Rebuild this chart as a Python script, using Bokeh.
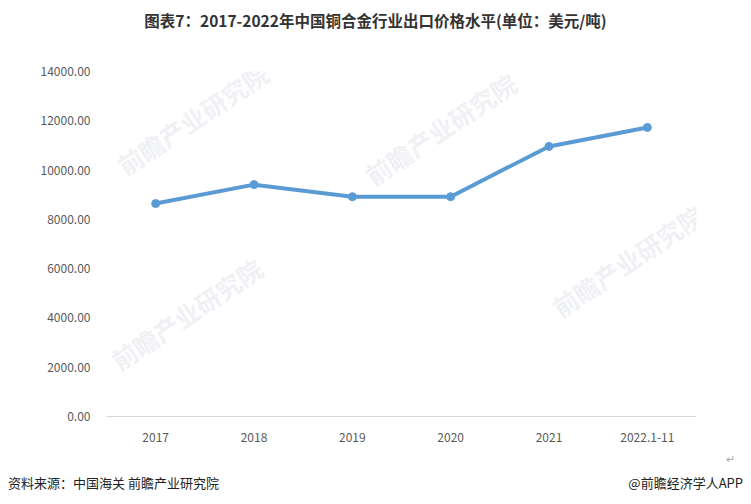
from bokeh.plotting import figure
from bokeh.models import Label, FixedTicker, CustomJSTickFormatter, Div, Title
from bokeh.layouts import column
from bokeh.embed import file_html
from bokeh.resources import INLINE

categories = ["2017", "2018", "2019", "2020", "2021", "2022.1-11"]
prices = [8640, 9410, 8920, 8920, 10960, 11730]
y_ticks = [0, 2000, 4000, 6000, 8000, 10000, 12000, 14000]

W = 735
FONT = "Noto Sans CJK SC"
TITLE_H = 40
FIG_H = 424
FOOT_H = 24

title_div = Div(text=('<div style="width:735px;height:24px;line-height:24px;text-align:center;'
                      'font-family:\'Noto Sans CJK SC\';font-size:15.5px;font-weight:bold;color:#333333;">'
                      '图表7：2017-2022年中国铜合金行业出口价格水平(单位：美元/吨)</div>'),
                width=W, height=TITLE_H, margin=0)

p = figure(x_range=categories, y_range=(0, 14000), width=W, height=FIG_H,
           output_backend="svg", toolbar_location=None,
           min_border_left=98, min_border_right=47, min_border_top=23, min_border_bottom=47,
           margin=0)
p.outline_line_color = None
p.xgrid.grid_line_color = None
p.ygrid.grid_line_color = None

# watermarks (page coords -> frame coords: x-106, 415.7-y)
wm = [(192, 118), (440, 128), (186, 313), (627, 260)]
for (x, y) in wm:
    p.add_layout(Label(x=x - 106, y=415.7 - y, x_units="screen", y_units="screen",
                       text="前瞻产业研究院", text_font=FONT, text_font_size="25px",
                       text_font_style="bold", text_color="#e8ebf0", text_alpha=0.7,
                       angle=34, angle_units="deg", text_align="center", text_baseline="middle"))

p.line(categories, prices, line_color="#5B9BD5", line_width=4)
p.scatter(categories, prices, size=8, fill_color="#5B9BD5", line_color="#5B9BD5")

p.yaxis.ticker = FixedTicker(ticks=y_ticks)
p.yaxis.formatter = CustomJSTickFormatter(code="return tick.toFixed(2);")
p.yaxis.axis_line_color = None
p.yaxis.major_tick_line_color = None
p.yaxis.minor_tick_line_color = None
p.yaxis.major_label_standoff = 10
p.xaxis.axis_line_color = "#d9d9d9"
p.xaxis.axis_line_width = 1
p.xaxis.major_tick_line_color = None
p.xaxis.minor_tick_line_color = None
p.xaxis.major_label_standoff = 10
for ax in (p.xaxis, p.yaxis):
    ax.major_label_text_font = FONT
    ax.major_label_text_font_size = "12px"
    ax.major_label_text_color = "#595959"

p.add_layout(Title(text="↵", align="right", offset=-38, vertical_align="top", text_font=FONT,
                   text_font_size="11px", text_font_style="normal",
                   text_color="#aaaaaa"), "below")

foot_div = Div(text=('<div style="width:735px;height:20px;line-height:20px;margin-top:1px;'
                     'display:flex;justify-content:space-between;font-family:\'Noto Sans CJK SC\';'
                     'font-size:13px;color:#222222;">'
                     '<span>资料来源：中国海关 前瞻产业研究院</span><span>@前瞻经济学人APP</span></div>'),
               width=W, height=FOOT_H, margin=0)

layout = column(title_div, p, foot_div, spacing=0, margin=(8, 8, 8, 8))
open("out.html", "w").write(file_html(layout, INLINE))
